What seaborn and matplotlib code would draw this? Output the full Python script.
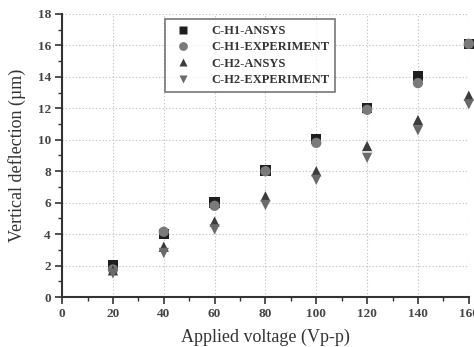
import numpy as np
import pandas as pd
import matplotlib
matplotlib.use("Agg")
import matplotlib.pyplot as plt
import seaborn as sns
from matplotlib.ticker import MultipleLocator

voltage = [20, 40, 60, 80, 100, 120, 140, 160]
h1_ansys = [2.0, 4.0, 6.0, 8.05, 10.05, 12.0, 14.05, 16.1]
h1_exp = [1.75, 4.15, 5.8, 8.0, 9.8, 11.9, 13.6, 16.1]
h2_ansys = [1.7, 3.2, 4.8, 6.4, 8.0, 9.6, 11.25, 12.8]
h2_exp = [1.5, 2.8, 4.3, 5.85, 7.45, 8.85, 10.6, 12.25]
series_names = ["C-H1-ANSYS", "C-H1-EXPERIMENT", "C-H2-ANSYS", "C-H2-EXPERIMENT"]

rows = []
for name, vals in zip(series_names, [h1_ansys, h1_exp, h2_ansys, h2_exp]):
    for v, d in zip(voltage, vals):
        rows.append({"Voltage": v, "Deflection": d, "Series": name})
df = pd.DataFrame(rows)

sns.set_style("white")
plt.rcParams["font.family"] = ["Liberation Serif", "DejaVu Serif"]

fig = plt.figure(figsize=(4.74, 3.47), dpi=100)
ax = fig.add_axes([0.131, 0.144, 0.858, 0.816])

palette = {"C-H1-ANSYS": "#1e1e1e", "C-H1-EXPERIMENT": "#7a7a7a",
           "C-H2-ANSYS": "#3c3c3c", "C-H2-EXPERIMENT": "#6a6a6a"}
markers = {"C-H1-ANSYS": "s", "C-H1-EXPERIMENT": "o",
           "C-H2-ANSYS": "^", "C-H2-EXPERIMENT": "v"}
sns.scatterplot(data=df, x="Voltage", y="Deflection", hue="Series", style="Series",
                palette=palette, markers=markers, s=55, edgecolor="none",
                ax=ax, zorder=3, clip_on=False)

ax.set_xlim(0, 160)
ax.set_ylim(0, 18)
ax.xaxis.set_major_locator(MultipleLocator(20))
ax.xaxis.set_minor_locator(MultipleLocator(10))
ax.yaxis.set_major_locator(MultipleLocator(2))
ax.yaxis.set_minor_locator(MultipleLocator(1))
ax.grid(True, which="major", linestyle=(0, (1.2, 1.8)), color="#c4c4c4", linewidth=0.8)
for s in ["top", "right"]:
    ax.spines[s].set_visible(False)
for s in ["left", "bottom"]:
    ax.spines[s].set_color("#333333")
    ax.spines[s].set_linewidth(1.5)
ax.tick_params(which="major", direction="out", length=5, width=1.2, color="#333333",
               labelsize=9.5, pad=3)
ax.tick_params(which="minor", direction="out", length=3, width=1.0, color="#333333")
ax.tick_params(axis="both", which="both", bottom=True, left=True)
for lab in ax.get_xticklabels() + ax.get_yticklabels():
    lab.set_fontweight("bold")
    lab.set_color("#444444")

ax.set_xlabel("Applied voltage (Vp-p)", fontsize=13, color="#333333", labelpad=6)
ax.set_ylabel("Vertical deflection (µm)", fontsize=13, color="#333333", labelpad=8)

leg = ax.legend(loc="upper left", bbox_to_anchor=(0.237, 1.005), frameon=True,
                fancybox=False, edgecolor="#555555",
                prop={"weight": "bold", "size": 9}, handletextpad=1.2,
                borderpad=0.5, labelspacing=0.35, markerscale=0.85)
leg.get_frame().set_linewidth(1.2)
for t in leg.get_texts():
    t.set_color("#333333")

fig.savefig("out.png", dpi=100)
